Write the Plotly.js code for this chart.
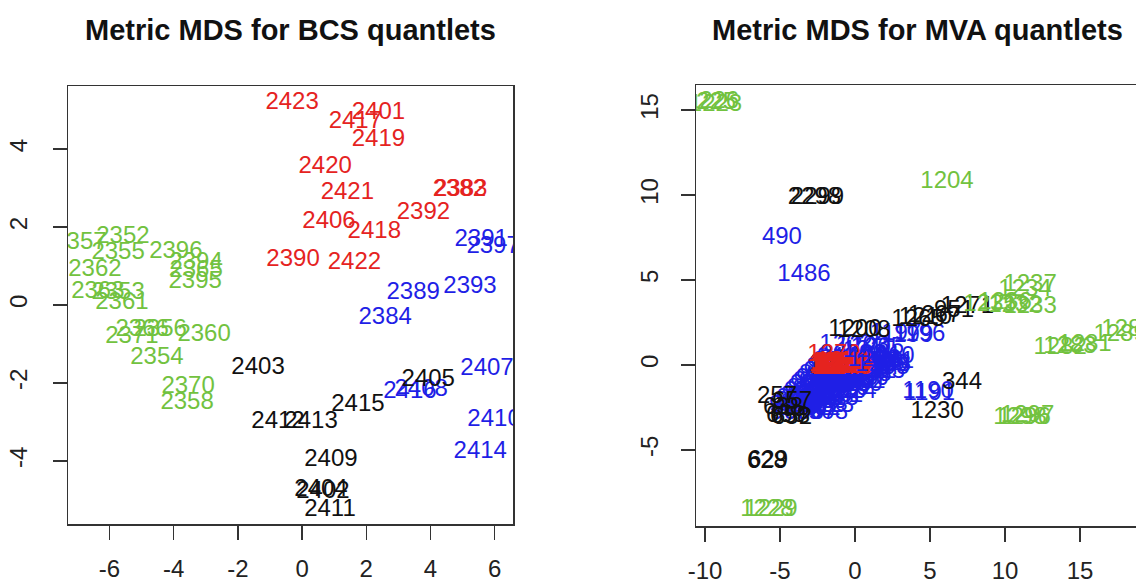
<!DOCTYPE html>
<html><head><meta charset="utf-8">
<script src="https://cdn.plot.ly/plotly-3.0.1.min.js"></script>
<style>html,body{margin:0;padding:0;background:#fff}#chart{width:1136px;height:584px}</style>
</head><body><div id="chart"></div>
<script>
// ---------- BCS quantlets (left panel) ----------
const bcsRedLabels = ["2423","2401","2417","2419","2420","2421","2382","2383","2392","2406","2418","2390","2422"];
const bcsRedX = [-0.31, 2.38, 1.66, 2.38, 0.72, 1.41, 4.90, 4.94, 3.78, 0.84, 2.25, -0.28, 1.63];
const bcsRedY = [5.18, 4.92, 4.69, 4.23, 3.54, 2.87, 2.95, 2.95, 2.36, 2.13, 1.87, 1.15, 1.08];

const bcsBlueLabels = ["2391","2397","2389","2393","2384","2407","2416","2408","2410","2414"];
const bcsBlueX = [5.58, 5.95, 3.46, 5.23, 2.59, 5.76, 3.36, 3.71, 5.98, 5.55];
const bcsBlueY = [1.67, 1.49, 0.31, 0.46, -0.33, -1.64, -2.23, -2.18, -2.95, -3.77];

const bcsBlackLabels = ["2403","2405","2415","2412","2413","2409","2404","2402","2411"];
const bcsBlackX = [-1.37, 3.93, 1.74, -0.75, 0.28, 0.90, 0.59, 0.65, 0.87];
const bcsBlackY = [-1.62, -1.92, -2.56, -3.00, -3.00, -3.97, -4.74, -4.79, -5.26];

const bcsGreenLabels = ["2357","2352","2355","2396","2362","2394","2365","2395","2363","2353","2361","2371","2366","2356","2360","2354","2370","2358"];
const bcsGreenX = [-6.92, -5.58, -5.73, -3.93, -6.45, -3.30, -3.30, -3.33, -6.36, -5.73, -5.61, -5.30, -4.98, -4.42, -3.05, -4.52, -3.55, -3.58];
const bcsGreenY = [1.59, 1.74, 1.33, 1.36, 0.90, 1.08, 0.87, 0.59, 0.33, 0.31, 0.05, -0.82, -0.64, -0.64, -0.77, -1.36, -2.10, -2.51];

// ---------- MVA quantlets (right panel) ----------
const mvaBlueLabels = ["490","1486","1190","1191","1197","1199","1196","1202","1203","1205",
  "860","861","862","863","864","865","866","867","868","869","870","871","872","873","874","875",
  "876","877","878","879","880","881","882","883","884","885","886","887","888","889","890","891",
  "892","893","894","895","896","897","898","899","900","901","902","903","904",
  "905","906","907","908","909","910","911","912","913","914","915","916","917","918","919","920",
  "921","922","923","924","925","926","927","928","929","930","931","932","933","934","935","936",
  "937","938","939","940","941","942","943","944","945","946","947","948","949","950"];
const mvaBlueX = [-4.87, -3.40, 4.87, 4.95, 2.70, 3.50, 4.30, -0.60, 0.50, 1.50,
  -3.80, -3.00, -2.30, -4.00, -3.30, -2.60, -1.90, -3.60, -2.90, -2.20, -1.50, -0.80,
  -3.20, -2.50, -1.80, -1.10, -0.40, -2.80, -2.10, -1.40, -0.70, 0.00, 0.70,
  -2.40, -1.70, -1.00, -0.30, 0.40, 1.10, -1.90, -1.20, -0.50, 0.20, 0.90, 1.60, 2.30,
  -1.50, -0.80, 0.50, 1.20, 1.90, 2.60, -1.00, 0.80, 1.60,
  -4.30, -3.40, -2.60, -1.80, -4.40, -3.60, -2.90, -2.10, -1.40, -3.90, -3.20, -2.50, -1.80, -1.10,
  -3.40, -2.70, -2.00, -1.30, -0.60, 0.10, -3.00, -2.30, -1.60, -0.90, -0.20, 0.50,
  -2.60, -1.90, -1.20, -0.50, 0.20, 0.90, -2.10, -1.40, -0.70, 0.00, 0.70, 1.40, 2.00,
  -1.70, 0.30, 1.00, 1.70, 2.40, -1.20, 0.90, 1.60, 2.30];
const mvaBlueY = [7.47, 5.29, -1.60, -1.70, 1.85, 1.70, 1.76, 1.20, 1.10, 1.00,
  -2.60, -2.60, -2.60, -2.20, -2.20, -2.20, -2.20, -1.80, -1.80, -1.80, -1.80, -1.80,
  -1.40, -1.40, -1.40, -1.40, -1.40, -1.00, -1.00, -1.00, -1.00, -1.00, -1.00,
  -0.60, -0.60, -0.60, -0.60, -0.60, -0.60, -0.20, -0.20, -0.20, -0.20, -0.20, -0.20, -0.20,
  0.20, 0.20, 0.20, 0.20, 0.20, 0.20, 0.60, 0.60, 0.60,
  -2.80, -2.80, -2.80, -2.80, -2.40, -2.40, -2.40, -2.40, -2.40, -2.00, -2.00, -2.00, -2.00, -2.00,
  -1.60, -1.60, -1.60, -1.60, -1.60, -1.60, -1.20, -1.20, -1.20, -1.20, -1.20, -1.20,
  -0.80, -0.80, -0.80, -0.80, -0.80, -0.80, -0.40, -0.40, -0.40, -0.40, -0.40, -0.40, -0.40,
  0.00, 0.00, 0.00, 0.00, 0.00, 0.40, 0.40, 0.40, 0.40];

const mvaRedLabels = ["1270","1272","1273","1274","1275","1276","1277","1278","1279","1280","1281",
  "1282","1284","1285","1286","1287","1290","1291","1292"];
const mvaRedX = [-1.40, -1.20, -1.00, -0.80, -0.60, -0.50, -1.10, -0.90, -0.70, -0.95, -0.65,
  -1.30, -1.15, -0.85, -0.55, -0.75, -1.05, -0.45, -1.25];
const mvaRedY = [0.60, 0.10, -0.10, 0.15, -0.15, 0.05, -0.15, 0.05, 0.10, -0.10, 0.00,
  0.00, 0.05, -0.05, -0.05, 0.00, 0.10, 0.10, -0.10];

const mvaBlueTopLabels = ["1208","1209","1210","1211"];
const mvaBlueTopX = [1.30, 1.80, 2.20, 0.90];
const mvaBlueTopY = [0.30, 0.00, 0.50, 0.80];

const mvaBlackLabels = ["2298","2299","628","629","658","659","652","638","257","657","344","1230",
  "1200","1208","1265","1267","951","1271","1210"];
const mvaBlackX = [-2.70, -2.50, -5.87, -5.80, -4.33, -4.60, -4.20, -4.80, -5.20, -4.20, 7.13, 5.47,
  0.00, 0.60, 4.20, 5.30, 6.60, 7.50, 4.70];
const mvaBlackY = [9.82, 9.80, -5.70, -5.65, -3.06, -3.00, -3.10, -2.50, -1.90, -2.20, -1.06, -2.76,
  2.06, 2.00, 2.65, 2.90, 3.20, 3.40, 2.75];

const mvaGreenLabels = ["1225","1226","1223","1204","1235","1236","1233","1234","1237","1232",
  "1283","1281","1282","1288","1289","1296","1298","1297","1228","1229"];
const mvaGreenX = [-9.70, -9.50, -9.30, 6.13, 9.00, 10.00, 11.67, 11.33, 11.67, 10.67,
  14.33, 15.33, 13.67, 18.20, 17.67, 11.27, 11.00, 11.50, -5.87, -5.60];
const mvaGreenY = [15.40, 15.50, 15.30, 10.76, 3.53, 3.65, 3.41, 4.41, 4.71, 3.47,
  1.06, 1.18, 1.00, 2.06, 1.76, -3.12, -3.12, -3.00, -8.53, -8.50];

const xTicksBCS = [-6, -4, -2, 0, 2, 4, 6];
const yTicksBCS = [-4, -2, 0, 2, 4];
const xTicksMVA = [-10, -5, 0, 5, 10, 15];
const yTicksMVA = [-5, 0, 5, 10, 15];
const titleBCS = "Metric MDS for BCS quantlets";
const titleMVA = "Metric MDS for MVA quantlets";

// ---------- styles ----------
const FONT = "Liberation Sans, Arial, Helvetica, sans-serif";
const RED = "#e5231f", BLUE = "#1f1fe6", GREEN = "#72c23f", BLACK = "#111111";

function txt(labels, xs, ys, color, xa, ya) {
  return {type: "scatter", mode: "text", x: xs, y: ys, text: labels,
    textposition: "middle center", cliponaxis: true, hoverinfo: "skip",
    textfont: {family: FONT, size: 24, color: color}, xaxis: xa, yaxis: ya, showlegend: false};
}

const traces = [
  txt(bcsGreenLabels, bcsGreenX, bcsGreenY, GREEN, "x", "y"),
  txt(bcsRedLabels, bcsRedX, bcsRedY, RED, "x", "y"),
  txt(bcsBlueLabels, bcsBlueX, bcsBlueY, BLUE, "x", "y"),
  txt(bcsBlackLabels, bcsBlackX, bcsBlackY, BLACK, "x", "y"),
  txt(mvaBlueLabels, mvaBlueX, mvaBlueY, BLUE, "x2", "y2"),
  txt(mvaRedLabels, mvaRedX, mvaRedY, RED, "x2", "y2"),
  txt(mvaBlueTopLabels, mvaBlueTopX, mvaBlueTopY, BLUE, "x2", "y2"),
  txt(mvaBlackLabels, mvaBlackX, mvaBlackY, BLACK, "x2", "y2"),
  txt(mvaGreenLabels, mvaGreenX, mvaGreenY, GREEN, "x2", "y2")
];

function ax(extra) {
  return Object.assign({
    showgrid: false, zeroline: false, showline: true, linecolor: "#333", linewidth: 1.5,
    ticks: "outside", ticklen: 14, tickwidth: 1.5, tickcolor: "#333",
    tickfont: {family: FONT, size: 24, color: "#222"}, tickmode: "array", fixedrange: true
  }, extra);
}

const layout = {
  width: 1136, height: 584, margin: {l: 0, r: 0, t: 0, b: 0},
  paper_bgcolor: "#fff", plot_bgcolor: "#fff",
  xaxis: ax({domain: [68/1136, 513/1136], range: [-7.29, 6.57], tickvals: xTicksBCS, ticktext: xTicksBCS.map(String), mirror: true, ticklabelstandoff: 9, anchor: "y"}),
  yaxis: ax({domain: [1-524/584, 1-86/584], range: [-5.62, 5.62], tickvals: yTicksBCS, ticktext: yTicksBCS.map(String), mirror: true, tickangle: -90, ticklabelstandoff: 16, anchor: "x"}),
  xaxis2: ax({domain: [696/1136, 1], range: [-10.6, 18.73], tickvals: xTicksMVA, ticktext: xTicksMVA.map(String), mirror: true, ticklabelstandoff: 9, anchor: "y2"}),
  yaxis2: ax({domain: [1-526/584, 1-85/584], range: [-9.47, 16.47], tickvals: yTicksMVA, ticktext: yTicksMVA.map(String), mirror: false, tickangle: -90, ticklabelstandoff: 13, anchor: "x2"}),
  annotations: [
    {text: "<b>" + titleBCS + "</b>", xref: "paper", yref: "paper", x: 290/1136, y: 1-30/584, xanchor: "center", yanchor: "middle", showarrow: false, font: {family: FONT, size: 29, color: "#111"}},
    {text: "<b>" + titleMVA + "</b>", xref: "paper", yref: "paper", x: 917/1136, y: 1-30/584, xanchor: "center", yanchor: "middle", showarrow: false, font: {family: FONT, size: 29, color: "#111"}}
  ]
};

Plotly.newPlot("chart", traces, layout, {displayModeBar: false, staticPlot: true});
</script>
</body></html>
